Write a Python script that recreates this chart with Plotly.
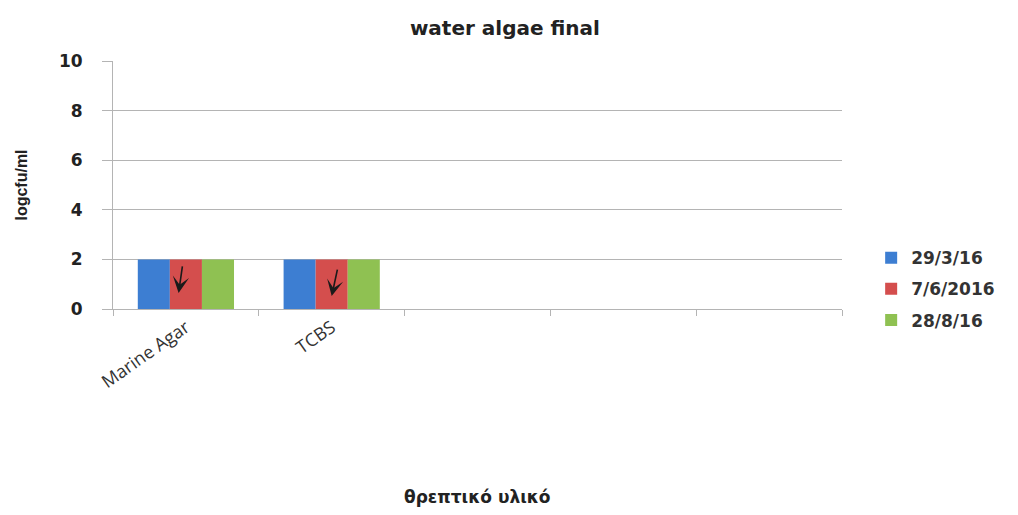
import plotly.graph_objects as go

# categories: two media plus three empty slots, as in the original sheet
media = ["Marine Agar", "TCBS", " ", "  ", "   "]
dates = ["29/3/16", "7/6/2016", "28/8/16"]
values = {
    "29/3/16": [2, 2, None, None, None],
    "7/6/2016": [2, 2, None, None, None],
    "28/8/16": [2, 2, None, None, None],
}
colors = ["#3D7ED2", "#D44E4D", "#8FC152"]

# hand-drawn "below detection" arrows on the red bars: (x, y of tip)
arrow_x = [-0.05, 1.0]
arrow_y = [0.65, 0.52]
arrow_dx = [4, 6]

GRID = "#B4B4B4"

fig = go.Figure()
for d, c in zip(dates, colors):
    fig.add_trace(go.Bar(x=media, y=values[d], name=d, marker_color=c,
                         marker_line_width=0, legendgroup=d))

for ax_, x, y in zip(arrow_dx, arrow_x, arrow_y):
    fig.add_annotation(x=x, y=y, xref="x", yref="y", text="", showarrow=True,
                       ax=ax_, ay=-28, arrowhead=3, arrowsize=1.7,
                       arrowwidth=1.6, arrowcolor="#1A1A1A")

fig.add_annotation(text="<b>θρεπτικό υλικό</b>", xref="paper", yref="paper",
                   x=0.5, y=0, yshift=-200, showarrow=False,
                   font=dict(family="DejaVu Sans", size=17, color="#222"))

# page body adds an 8px offset, so the figure is 8px smaller than the window
fig.update_layout(
    width=1010, height=507,
    margin=dict(l=105, r=176, t=53, b=206, autoexpand=False),
    paper_bgcolor="white", plot_bgcolor="white",
    barmode="group", bargap=0.34, bargroupgap=0,
    title=dict(text="<b>water algae final</b>", x=0.492, xref="container",
               y=0.96, yanchor="middle",
               font=dict(family="DejaVu Sans", size=20, color="#222")),
    legend=dict(x=1.04, y=0.08, xanchor="left", yanchor="middle",
                tracegroupgap=6, itemwidth=30,
                font=dict(family="DejaVu Sans", size=17, color="#333",
                          weight="bold")),
    showlegend=True,
)
fig.update_xaxes(
    type="category", categoryorder="array", categoryarray=media,
    tickson="boundaries", ticks="outside", ticklen=6, tickcolor=GRID,
    showline=True, linecolor=GRID, linewidth=1, tickangle=-35,
    tickfont=dict(family="Open Sans", size=18, color="#333"),
    showgrid=False, automargin=False,
)
fig.update_yaxes(
    range=[0, 10], dtick=2, showgrid=True, gridcolor=GRID, gridwidth=1,
    showline=True, linecolor=GRID, ticks="outside", ticklen=10, tickcolor=GRID,
    ticklabelstandoff=16,
    tickfont=dict(family="DejaVu Sans", size=17, color="#222", weight="bold"),
    title=dict(text="<b>logcfu/ml</b>", standoff=27,
               font=dict(family="Liberation Sans", size=16, color="#222")),
    zeroline=False, automargin=False,
)

fig.write_html("out.html")
